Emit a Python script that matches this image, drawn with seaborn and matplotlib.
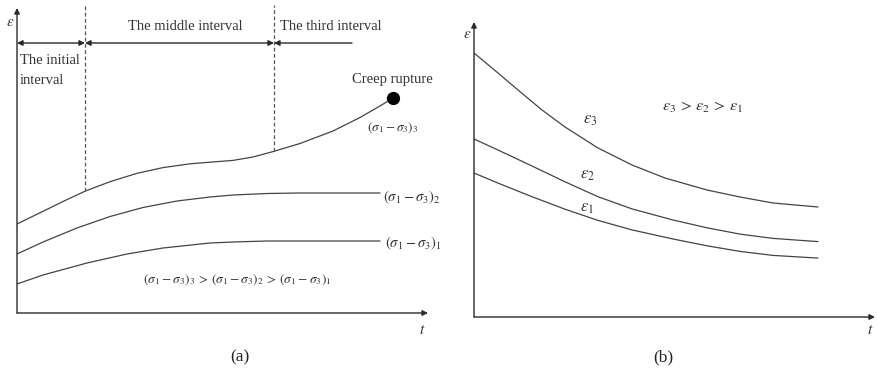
import matplotlib
matplotlib.use("Agg")
import matplotlib.pyplot as plt
import pandas as pd
import seaborn as sns

# ---- (a) creep curves under three deviatoric stress levels ----
t_a3 = [0, 26, 46, 68, 93, 120, 146, 173, 193, 216, 236, 256, 283, 316, 343, 363, 376]
e_a3 = [89, 101.7, 111.5, 121.8, 131.3, 139.7, 145.4, 149.2, 150.8, 152.6, 156, 161.4,
        169.5, 182, 195.5, 207, 215]
t_a2 = [0, 26, 60, 93, 126, 160, 193, 216, 250, 283, 363]
e_a2 = [59, 71, 85, 96.5, 105.5, 112, 116, 118, 119.5, 120, 120]
t_a1 = [0, 26, 70, 110, 146, 193, 216, 250, 283, 363]
e_a1 = [29, 38, 50, 59, 65, 70, 71, 72, 72, 72]
interval_bounds = [68, 257]          # t at the two dashed boundaries
interval_strain = [122, 162]         # strain where the boundaries meet curve 3
rupture_point = (376, 215)
labels_a = [r"$(\sigma_1-\sigma_3)_1$", r"$(\sigma_1-\sigma_3)_2$", r"$(\sigma_1-\sigma_3)_3$"]

# ---- (b) strain-time curves for three strain levels ----
t_b3 = [0, 24, 44, 68, 91, 124, 158, 191, 233, 266, 299, 344]
e_b3 = [264, 244, 227, 207, 190, 169, 152, 139, 127, 120, 114, 110]
t_b2 = [0, 24, 58, 91, 124, 158, 199, 233, 266, 299, 344]
e_b2 = [178, 167, 151, 135.2, 120.3, 108.1, 97, 89.2, 82.9, 78.6, 75.4]
t_b1 = [0, 24, 58, 91, 124, 158, 199, 233, 266, 299, 344]
e_b1 = [144, 133.9, 120.3, 107.8, 96.6, 87.1, 78, 71.2, 65.6, 61.6, 58.9]
labels_b = [r"$\varepsilon_1$", r"$\varepsilon_2$", r"$\varepsilon_3$"]

sns.set_theme(style="white")
plt.rcParams["font.family"] = ["Liberation Serif", "DejaVu Serif"]
plt.rcParams["mathtext.fontset"] = "stix"

W, H = 877, 382
fig = plt.figure(figsize=(W / 100, H / 100), dpi=100)
fig.patch.set_facecolor("white")

ax_a = fig.add_axes([17 / W, 69 / H, 413 / W, 308 / H])
ax_b = fig.add_axes([474 / W, 65 / H, 403 / W, 302 / H])
ax_a.set_xlim(0, 413); ax_a.set_ylim(0, 308)
ax_b.set_xlim(0, 403); ax_b.set_ylim(0, 302)

CURVE = "#444444"
AXIS = "#2a2a2a"


def frame(d):
    rows = []
    for name, (ts, es) in d.items():
        rows += [{"t": t, "e": e, "curve": name} for t, e in zip(ts, es)]
    return pd.DataFrame(rows)


df_a = frame({"c1": (t_a1, e_a1), "c2": (t_a2, e_a2), "c3": (t_a3, e_a3)})
df_b = frame({"c1": (t_b1, e_b1), "c2": (t_b2, e_b2), "c3": (t_b3, e_b3)})

for ax, df in ((ax_a, df_a), (ax_b, df_b)):
    sns.lineplot(data=df, x="t", y="e", units="curve", estimator=None, sort=False,
                 color=CURVE, lw=0.9, ax=ax, legend=False)
    for ln in ax.get_lines():
        ln.set_solid_joinstyle("round")
    ax.set_axis_off()


def arrow(ax, xy_from, xy_to, style="-|>"):
    ax.annotate("", xy=xy_to, xytext=xy_from, annotation_clip=False,
                arrowprops=dict(arrowstyle=style, color=AXIS, lw=1.0,
                                mutation_scale=8, shrinkA=0, shrinkB=0))


# axes with arrow tips
arrow(ax_a, (0, 0), (411, 0)); arrow(ax_a, (0, 0), (0, 305))
arrow(ax_b, (0, 0), (401, 0)); arrow(ax_b, (0, 0), (0, 295))

math_kw = dict(color="#333333")
ax_a.text(-7, 291, r"$\varepsilon$", fontsize=11, ha="center", va="center", **math_kw)
ax_a.text(405, -17, r"$t$", fontsize=11, ha="center", va="center", **math_kw)
ax_b.text(-7, 282, r"$\varepsilon$", fontsize=11, ha="center", va="center", **math_kw)
ax_b.text(396, -13, r"$t$", fontsize=11, ha="center", va="center", **math_kw)

# interval boundaries and spans
for tb, eb in zip(interval_bounds, interval_strain):
    ax_a.plot([tb, tb], [eb, 308], ls=(0, (3, 2)), color="#555555", lw=0.9, clip_on=False)
arrow(ax_a, (0, 270), (interval_bounds[0], 270), "<|-|>")
arrow(ax_a, (interval_bounds[0], 270), (interval_bounds[1], 270), "<|-|>")
arrow(ax_a, (335, 270), (interval_bounds[1], 270), "-|>")

txt = dict(fontsize=10.5, color="#333333")
ax_a.text(168, 287, "The middle interval", ha="center", va="center", **txt)
ax_a.text(263, 287, "The third interval", ha="left", va="center", **txt)
ax_a.text(3, 252, "The initial", ha="left", va="center", **txt)
ax_a.text(3, 233, "interval", ha="left", va="center", **txt)
ax_a.text(375, 233, "Creep rupture", ha="center", va="center", **txt)

ax_a.plot([rupture_point[0]], [rupture_point[1]], "o", color="black", ms=8.5, clip_on=False)

ax_a.text(376, 185, labels_a[2], fontsize=9.5, ha="center", va="center", **math_kw)
ax_a.text(366, 116, labels_a[1], fontsize=10.5, ha="left", va="center", **math_kw)
ax_a.text(368, 70, labels_a[0], fontsize=10.5, ha="left", va="center", **math_kw)
ax_a.text(220, 33, labels_a[2] + r"$\,>\,$" + labels_a[1] + r"$\,>\,$" + labels_a[0],
          fontsize=9.7, ha="center", va="center", **math_kw)

ax_b.text(116, 197, labels_b[2], fontsize=12, ha="center", va="center", **math_kw)
ax_b.text(113, 142, labels_b[1], fontsize=12, ha="center", va="center", **math_kw)
ax_b.text(113, 109, labels_b[0], fontsize=12, ha="center", va="center", **math_kw)
ax_b.text(229, 210, labels_b[2] + r"$\,>\,$" + labels_b[1] + r"$\,>\,$" + labels_b[0],
          fontsize=11.8, ha="center", va="center", **math_kw)

ax_a.text(223, -44, "(a)", fontsize=12.5, ha="center", va="center", color="#222222")
ax_b.text(189, -40, "(b)", fontsize=12.5, ha="center", va="center", color="#222222")

fig.savefig("out.png", dpi=100, facecolor="white")
